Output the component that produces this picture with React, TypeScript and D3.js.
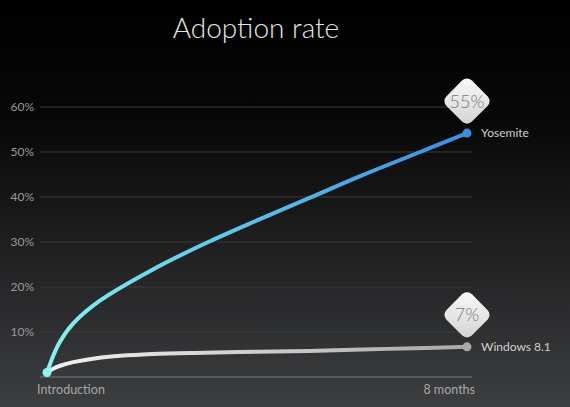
import React from 'react';
import * as d3 from 'd3';

// months since introduction
const months = [0, 0.125, 0.25, 0.5, 1, 2, 3, 4, 5, 6, 7, 8];
const yosemite = [1, 4.9, 7.9, 11.9, 16.9, 23.8, 29.6, 34.8, 39.8, 44.8, 49.5, 54.2];
const windows81 = [1, 1.9, 2.5, 3.3, 4.3, 5.1, 5.4, 5.6, 5.8, 6.1, 6.4, 6.7];
const yTicks = [10, 20, 30, 40, 50, 60];
const seriesNames = ['Yosemite', 'Windows 8.1'];
const badgeLabels = ['55%', '7%'];
const xLabels = ['Introduction', '8 months'];

const W = 570;
const H = 407;
const FONT = 'Lato, "Open Sans", sans-serif';

const App: React.FC = () => {
  const x = d3.scaleLinear().domain([0, 8]).range([47, 467]);
  const y = d3.scaleLinear().domain([0, 60]).range([377, 107]);
  const gridX1 = 40;
  const gridX2 = 472;

  const line = d3.line<number>()
    .x((_, i) => x(months[i]))
    .y(d => y(d))
    .curve(d3.curveCatmullRom.alpha(0.5));

  const series = [
    { name: seriesNames[0], values: yosemite, grad: 'gYos', dot: '#3b8fe0', badge: badgeLabels[0] },
    { name: seriesNames[1], values: windows81, grad: 'gWin', dot: '#a9a9a9', badge: badgeLabels[1] },
  ];

  return (
    <svg width={W} height={H} style={{ position: 'absolute', left: 0, top: 0, display: 'block' }}>
      <defs>
        <linearGradient id="bg" x1="0" y1="0" x2="0" y2="1">
          <stop offset="0%" stopColor="#000" />
          <stop offset="30%" stopColor="#080808" />
          <stop offset="100%" stopColor="#3d3e40" />
        </linearGradient>
        <linearGradient id="gYos" gradientUnits="userSpaceOnUse" x1={x(0)} y1="0" x2={x(8)} y2="0">
          <stop offset="0%" stopColor="#86f3ee" />
          <stop offset="45%" stopColor="#5fc3ea" />
          <stop offset="100%" stopColor="#3a8ce0" />
        </linearGradient>
        <linearGradient id="gWin" gradientUnits="userSpaceOnUse" x1={x(0)} y1="0" x2={x(8)} y2="0">
          <stop offset="0%" stopColor="#f2f2f2" />
          <stop offset="100%" stopColor="#a8a8a8" />
        </linearGradient>
        <linearGradient id="badge" x1="0" y1="0" x2="1" y2="1">
          <stop offset="0%" stopColor="#fbfbfb" />
          <stop offset="100%" stopColor="#d2d2d2" />
        </linearGradient>
      </defs>

      <rect width={W} height={H} fill="url(#bg)" />

      <text x={256} y={38} textAnchor="middle" fill="#e6e6e6" fontFamily={FONT}
        fontWeight={300} fontSize={28}>Adoption rate</text>

      {yTicks.map(t => (
        <g key={t}>
          <line x1={gridX1} x2={gridX2} y1={y(t)} y2={y(t)} stroke="#3a3a3a" strokeWidth={1} />
          <text x={34} y={y(t)} dy="0.35em" textAnchor="end" fill="#9a9a9a"
            fontFamily={FONT} fontSize={12}>{t}%</text>
        </g>
      ))}
      <line x1={gridX1} x2={gridX2} y1={y(0)} y2={y(0)} stroke="#7a7a7a" strokeWidth={1} />

      <text x={37} y={y(0) + 17} fill="#a8a8a8" fontFamily={FONT} fontSize={12.5}>{xLabels[0]}</text>
      <text x={475} y={y(0) + 17} textAnchor="end" fill="#a8a8a8" fontFamily={FONT} fontSize={12.5}>{xLabels[1]}</text>

      {series.slice().reverse().map(s => (
        <path key={s.name} d={line(s.values) || ''} fill="none" stroke={`url(#${s.grad})`}
          strokeWidth={4} strokeLinecap="round" />
      ))}

      <circle cx={x(0)} cy={y(yosemite[0])} r={4.5} fill="#8af5f0" />

      {series.map(s => {
        const last = s.values[s.values.length - 1];
        const cx = x(8);
        const cy = y(last);
        return (
          <g key={s.name + '-end'}>
            <circle cx={cx} cy={cy} r={4.5} fill={s.dot} />
            <text x={481} y={cy} dy="0.35em" fill="#cfcfcf" fontFamily={FONT} fontSize={12}>{s.name}</text>
            <g transform={`translate(${cx},${cy - 32})`}>
              <rect x={-18} y={-18} width={36} height={36} rx={7} transform="rotate(45)"
                fill="url(#badge)" />
              <text y={0} dy="0.36em" textAnchor="middle" fill="#777" fontFamily={FONT}
                fontWeight={300} fontSize={18}>{s.badge}</text>
            </g>
          </g>
        );
      })}
    </svg>
  );
};

export default App;
